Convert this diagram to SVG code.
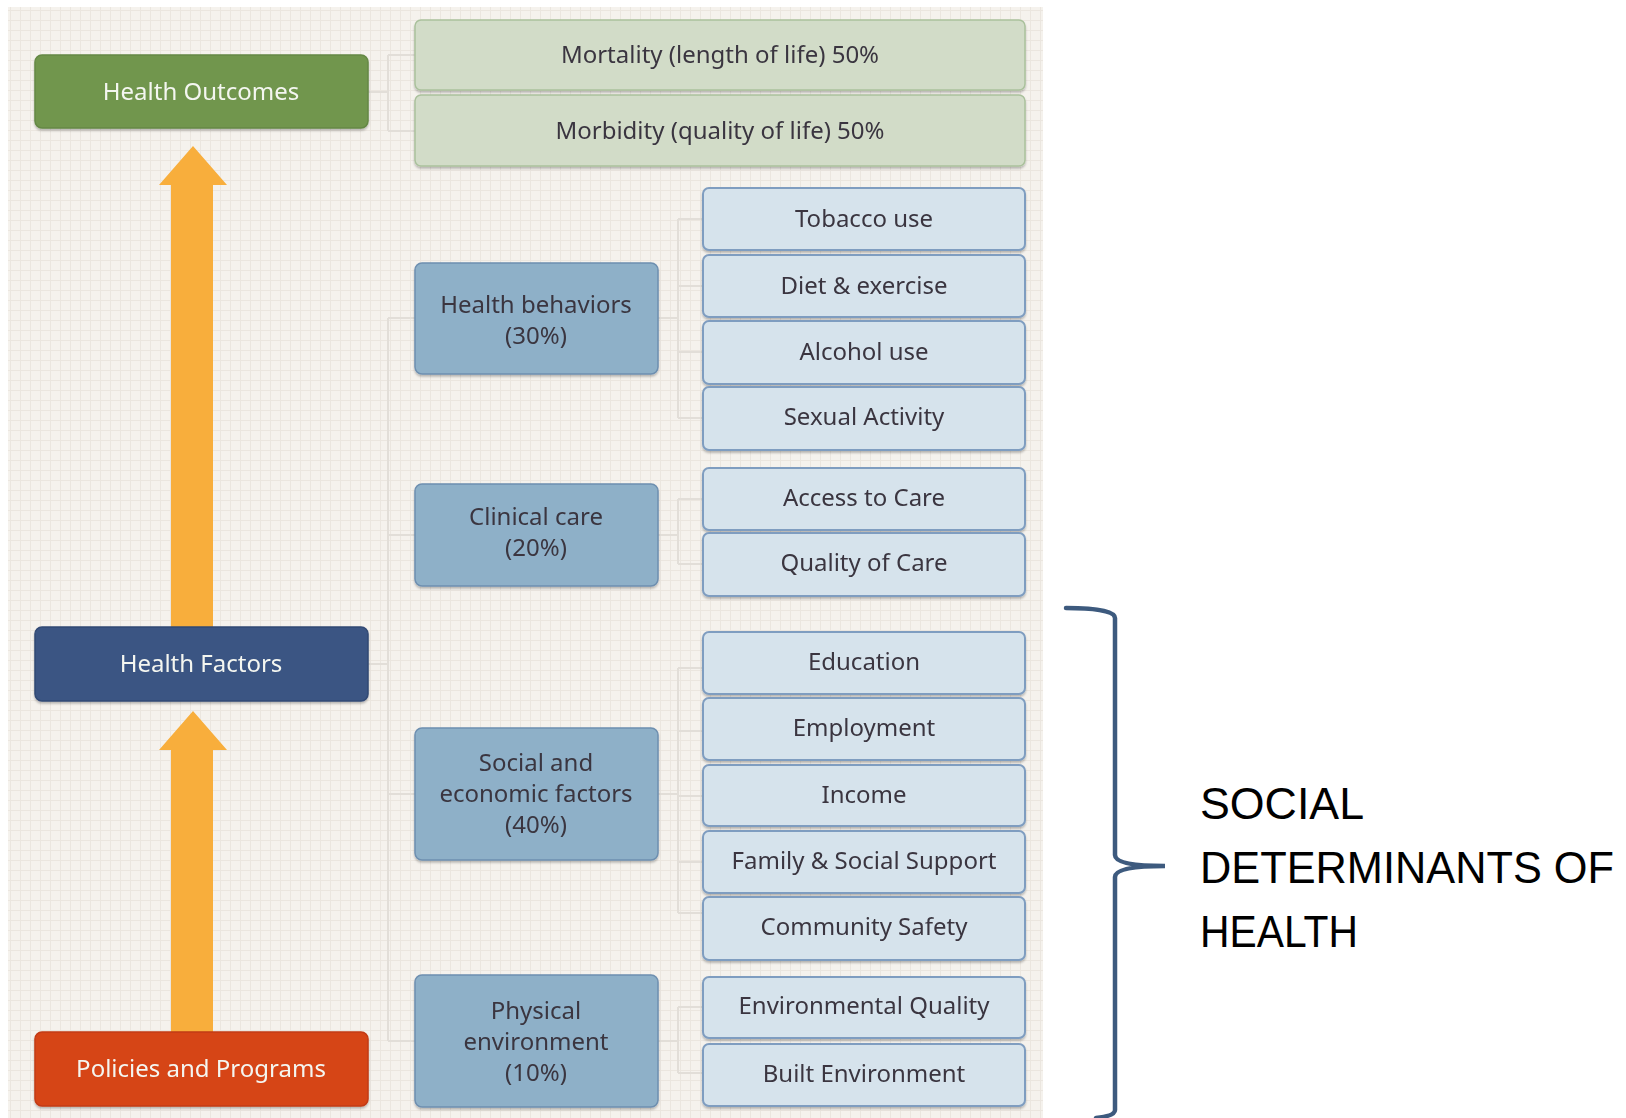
<svg xmlns="http://www.w3.org/2000/svg" width="1626" height="1118" viewBox="0 0 1626 1118">
<defs>
<pattern id="weave" width="10" height="10" patternUnits="userSpaceOnUse">
<rect width="10" height="10" fill="#f5f2ed"/>
<path d="M0,0.5 H10 M0.5,0 V10" stroke="#ebe6df" stroke-width="1"/>
</pattern>
<filter id="sh" x="-5%" y="-10%" width="110%" height="130%">
<feDropShadow dx="0" dy="2" stdDeviation="1" flood-color="#000" flood-opacity="0.25"/>
</filter>
</defs>
<style>
.t{font-family:"Noto Sans","Open Sans","Liberation Sans",sans-serif;font-size:24px;text-anchor:middle}
.dark{fill:#3a3640}
.light{fill:#f4f6f0}
.root{stroke-width:1.5}
.out{fill:#d2dcc8;stroke:#aac19c;stroke-width:1.5}
.mid{fill:#8eb0c8;stroke:#6e8fb0;stroke-width:1.5}
.leaf{fill:#d6e3ec;stroke:#7f9dc0;stroke-width:2}
.conn{fill:none;stroke:#e2ded8;stroke-width:2}
.big{font-family:"Liberation Sans",Arial,sans-serif;font-size:44px;fill:#000}
</style>
<rect width="1626" height="1118" fill="#ffffff"/>
<rect x="8" y="7" width="1035" height="1111" fill="url(#weave)"/>

<g id="connectors" class="conn">
<path d="M368,92 H388 M388,55 V131 M388,55 H415 M388,131 H415"/>
<path d="M368,664 H388 M388,318 V1041 M388,318 H415 M388,535 H415 M388,794 H415 M388,1041 H415"/>
<path d="M658,318 H678 M678,219 V418 M678,219 H703 M678,286 H703 M678,352 H703 M678,418 H703"/>
<path d="M658,535 H678 M678,499 V564 M678,499 H703 M678,564 H703"/>
<path d="M658,794 H678 M678,668 V913 M678,668 H703 M678,731 H703 M678,796 H703 M678,862 H703 M678,913 H703"/>
<path d="M658,1041 H678 M678,1007 V1073 M678,1007 H703 M678,1073 H703"/>
</g>

<g id="arrows" fill="#f8ae3c">
<polygon points="193,146 227,185 213,185 213,628 171,628 171,185 159,185"/>
<polygon points="193,711 227,750 213,750 213,1033 171,1033 171,750 159,750"/>
</g>

<g id="health-outcomes" filter="url(#sh)">
<rect x="35" y="55" width="333" height="73" rx="7" fill="#71964e" stroke="#648844" class="root"/>
<text class="t light" x="201" y="100">Health Outcomes</text>
</g>
<g id="health-factors" filter="url(#sh)">
<rect x="35" y="627" width="333" height="74" rx="7" fill="#3b5583" stroke="#324a74" class="root"/>
<text class="t light" x="201" y="672">Health Factors</text>
</g>
<g id="policies" filter="url(#sh)">
<rect x="35" y="1032" width="333" height="74" rx="7" fill="#d64419" stroke="#c23a12" class="root"/>
<text class="t light" x="201" y="1077">Policies and Programs</text>
</g>

<g id="mortality" filter="url(#sh)">
<rect x="415" y="20" width="610" height="70" rx="6" class="out"/>
<text class="t dark" x="720" y="63">Mortality (length of life) 50%</text>
</g>
<g id="morbidity" filter="url(#sh)">
<rect x="415" y="95" width="610" height="71" rx="6" class="out"/>
<text class="t dark" x="720" y="139">Morbidity (quality of life) 50%</text>
</g>

<g id="health-behaviors" filter="url(#sh)">
<rect x="415" y="263" width="243" height="111" rx="7" class="mid"/>
<text class="t dark" x="536" y="313">Health behaviors</text>
<text class="t dark" x="536" y="344">(30%)</text>
</g>
<g id="clinical-care" filter="url(#sh)">
<rect x="415" y="484" width="243" height="102" rx="7" class="mid"/>
<text class="t dark" x="536" y="525">Clinical care</text>
<text class="t dark" x="536" y="556">(20%)</text>
</g>
<g id="social-economic" filter="url(#sh)">
<rect x="415" y="728" width="243" height="132" rx="7" class="mid"/>
<text class="t dark" x="536" y="771">Social and</text>
<text class="t dark" x="536" y="802">economic factors</text>
<text class="t dark" x="536" y="833">(40%)</text>
</g>
<g id="physical-environment" filter="url(#sh)">
<rect x="415" y="975" width="243" height="132" rx="7" class="mid"/>
<text class="t dark" x="536" y="1019">Physical</text>
<text class="t dark" x="536" y="1050">environment</text>
<text class="t dark" x="536" y="1081">(10%)</text>
</g>

<g id="tobacco" filter="url(#sh)"><rect x="703" y="188" width="322" height="62" rx="6" class="leaf"/><text class="t dark" x="864" y="227">Tobacco use</text></g>
<g id="diet" filter="url(#sh)"><rect x="703" y="255" width="322" height="62" rx="6" class="leaf"/><text class="t dark" x="864" y="294">Diet &amp; exercise</text></g>
<g id="alcohol" filter="url(#sh)"><rect x="703" y="321" width="322" height="63" rx="6" class="leaf"/><text class="t dark" x="864" y="360">Alcohol use</text></g>
<g id="sexual" filter="url(#sh)"><rect x="703" y="387" width="322" height="63" rx="6" class="leaf"/><text class="t dark" x="864" y="425">Sexual Activity</text></g>
<g id="access" filter="url(#sh)"><rect x="703" y="468" width="322" height="62" rx="6" class="leaf"/><text class="t dark" x="864" y="506">Access to Care</text></g>
<g id="quality" filter="url(#sh)"><rect x="703" y="533" width="322" height="63" rx="6" class="leaf"/><text class="t dark" x="864" y="571">Quality of Care</text></g>
<g id="education" filter="url(#sh)"><rect x="703" y="632" width="322" height="62" rx="6" class="leaf"/><text class="t dark" x="864" y="670">Education</text></g>
<g id="employment" filter="url(#sh)"><rect x="703" y="698" width="322" height="62" rx="6" class="leaf"/><text class="t dark" x="864" y="736">Employment</text></g>
<g id="income" filter="url(#sh)"><rect x="703" y="765" width="322" height="61" rx="6" class="leaf"/><text class="t dark" x="864" y="803">Income</text></g>
<g id="family" filter="url(#sh)"><rect x="703" y="831" width="322" height="62" rx="6" class="leaf"/><text class="t dark" x="864" y="869">Family &amp; Social Support</text></g>
<g id="community" filter="url(#sh)"><rect x="703" y="897" width="322" height="63" rx="6" class="leaf"/><text class="t dark" x="864" y="935">Community Safety</text></g>
<g id="environmental-quality" filter="url(#sh)"><rect x="703" y="977" width="322" height="61" rx="6" class="leaf"/><text class="t dark" x="864" y="1014">Environmental Quality</text></g>
<g id="built-environment" filter="url(#sh)"><rect x="703" y="1044" width="322" height="62" rx="6" class="leaf"/><text class="t dark" x="864" y="1082">Built Environment</text></g>

<g id="bracket">
<path d="M1066,608 C1090,608 1115,610 1115,618 V855 C1115,864 1140,866 1165,866 C1140,866 1115,868 1115,877 V1110 C1115,1115 1105,1117 1096,1118" fill="none" stroke="#3d5a7e" stroke-width="4.5" stroke-linecap="round"/>
</g>
<g id="sdoh-label">
<text class="big" x="1200" y="819" textLength="164" lengthAdjust="spacingAndGlyphs">SOCIAL</text>
<text class="big" x="1200" y="883" textLength="414" lengthAdjust="spacingAndGlyphs">DETERMINANTS OF</text>
<text class="big" x="1200" y="947" textLength="158" lengthAdjust="spacingAndGlyphs">HEALTH</text>
</g>
</svg>
